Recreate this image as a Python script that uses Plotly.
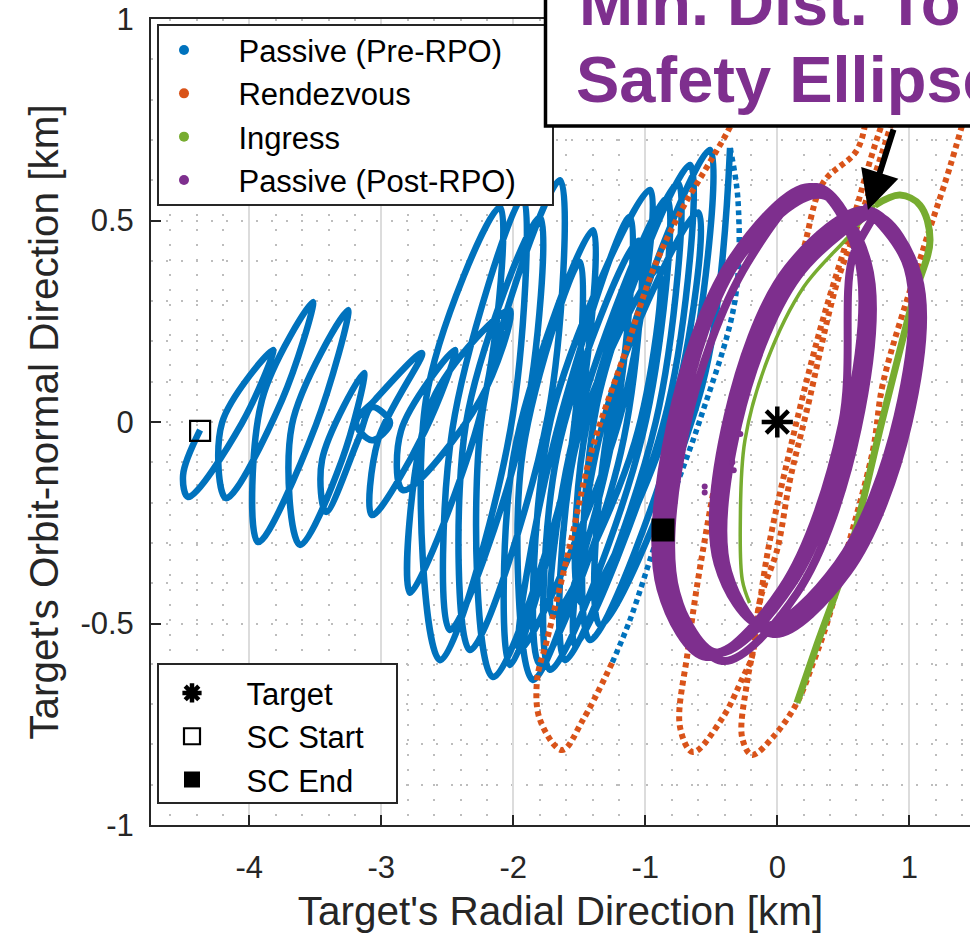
import plotly.graph_objects as go

# ---------------- data (km) : (radial, orbit-normal) ----------------
blue_path = [  # Passive (Pre-RPO)
    (-4.373, -0.020), (-4.502, -0.132),
    (-4.464, -0.186), (-4.055, -0.002), (-3.820, 0.179), (-4.207, -0.002),
    (-4.177, -0.189), (-3.752, 0.055), (-3.518, 0.298), (-3.904, 0.055),
    (-3.934, -0.298), (-3.495, -0.007), (-3.252, 0.278), (-3.677, -0.007),
    (-3.616, -0.305), (-3.298, -0.094), (-3.131, 0.122), (-3.449, -0.094),
    (-3.419, -0.223), (-3.177, -0.045), (-3.071, 0.037), (-2.934, -0.002),
    (-3.071, -0.045), (-3.192, -0.002), (-3.048, 0.055), (-2.692, 0.171), (-3.025, -0.045),
    (-3.071, -0.231), (-2.669, -0.022), (-2.442, 0.179), (-2.851, -0.022),
    (-2.836, -0.169), (-2.251, 0.055), (-2.025, 0.278), (-2.611, 0.055),
    (-2.783, -0.424), (-2.222, 0.055), (-2.101, 0.533), (-2.662, 0.055),
    (-2.555, -0.591), (-2.021, -0.017), (-1.927, 0.558), (-2.461, -0.017),
    (-2.480, -0.516), (-1.919, -0.004), (-1.798, 0.509), (-2.359, -0.004),
    (-2.328, -0.566), (-1.737, 0.017), (-1.646, 0.600), (-2.237, 0.017),
    (-2.154, -0.633), (-1.555, -0.079), (-1.396, 0.476), (-1.995, -0.079),
    (-2.025, -0.603), (-1.580, -0.103), (-1.495, 0.397), (-1.940, -0.103),
    (-1.851, -0.640), (-1.264, -0.066), (-1.116, 0.509), (-1.704, -0.066),
    (-1.949, -0.566), (-1.197, 0.005), (-0.964, 0.576), (-1.717, 0.005),
    (-1.800, -0.600), (-1.185, -0.075), (-1.050, 0.450), (-1.665, -0.075),
    (-1.722, -0.615), (-1.019, -0.030), (-0.836, 0.556), (-1.539, -0.030),
    (-1.700, -0.480), (-1.080, -0.050), (-0.900, 0.380), (-1.520, -0.050),
    (-1.608, -0.591), (-0.920, 0.001), (-0.752, 0.593), (-1.440, 0.001),
    (-1.480, -0.450), (-0.790, 0.035), (-0.600, 0.520), (-1.290, 0.035),
    (-1.533, -0.553), (-0.827, 0.043), (-0.661, 0.638), (-1.367, 0.043),
    (-1.419, -0.541), (-0.695, 0.067), (-0.510, 0.675), (-1.235, 0.067),
    (-1.343, -0.504), (-0.571, 0.088), (-0.358, 0.680),
]
blue_fast_path = [  # last, fast pass of the pre-RPO phase
    (-0.358, 0.680), (-0.298, 0.551), (-0.320, 0.303), (-0.586, 0.005),
    (-0.889, -0.268), (-1.116, -0.491), (-1.252, -0.598),
]
orange_path = [  # Rendezvous
    (-1.252, -0.598), (-1.472, -0.739), (-1.631, -0.814), (-1.798, -0.739),
    (-1.820, -0.640), (-1.745, -0.541), (-1.570, -0.305), (-1.404, -0.069),
    (-1.139, 0.186), (-0.942, 0.377), (-0.737, 0.519), (-0.487, 0.658),
    (-0.358, 0.732), (-0.131, 0.898), (0.096, 1.047), (0.399, 1.196),
    (0.929, 1.246), (0.853, 0.973), (0.702, 0.799), (0.604, 0.675),
    (0.346, 0.593), (0.172, 0.402), (-0.033, 0.261), (-0.230, 0.097),
    (-0.411, -0.069), (-0.563, -0.318), (-0.677, -0.566), (-0.737, -0.757),
    (-0.639, -0.819), (-0.411, -0.732), (-0.260, -0.633), (-0.192, -0.583),
    (-0.131, -0.442), (-0.002, -0.318), (0.096, -0.144), (0.225, 0.030),
    (0.452, 0.345), (0.604, 0.484), (0.801, 0.675), (0.967, 0.849),
    (1.157, 1.047), (1.384, 1.196), (1.043, 0.948), (0.778, 0.725),
    (0.551, 0.476), (0.323, 0.228), (0.096, -0.069), (-0.070, -0.318),
    (-0.184, -0.566), (-0.230, -0.648), (-0.267, -0.782), (-0.192, -0.826),
    (-0.033, -0.782), (0.149, -0.697), (0.271, -0.598), (0.377, -0.499),
    (0.528, -0.318), (0.725, -0.069), (0.801, 0.097), (1.104, 0.427),
    (1.308, 0.633), (1.497, 0.849),
]
green_path = [  # Ingress (outer branch)
    (0.149, -0.697), (0.286, -0.566), (0.551, -0.318), (0.801, 0.012),
    (1.028, 0.303), (1.157, 0.452), (1.081, 0.538), (0.929, 0.563), (0.740, 0.538),
]
green_inner_path = [  # Ingress (inner branch)
    (0.740, 0.538), (0.551, 0.464), (0.200, 0.335), (-0.075, 0.154),
    (-0.245, -0.045), (-0.280, -0.243), (-0.265, -0.392), (-0.210, -0.449),
]
purple_path = [  # Passive (Post-RPO)
    (0.647, 0.536), (0.988, 0.382), (0.912, 0.015), (0.457, -0.352),
    (-0.110, -0.506), (-0.452, -0.352), (-0.376, 0.015), (0.078, 0.382),
    (0.687, 0.526), (1.028, 0.372), (0.952, 0.005), (0.497, -0.362),
    (-0.070, -0.516), (-0.412, -0.362), (-0.336, 0.005), (0.118, 0.372),
    (0.727, 0.516), (1.068, 0.362), (0.992, -0.005), (0.537, -0.372),
    (-0.030, -0.526), (-0.372, -0.372), (-0.296, -0.005), (0.158, 0.362),
    (0.727, 0.516),
    (0.566, 0.404), (0.490, -0.005), (0.031, -0.414),
    (-0.537, -0.583), (-0.885, -0.414), (-0.810, -0.005), (-0.347, 0.404),
    (0.257, 0.583), (0.606, 0.414), (0.530, 0.005), (0.071, -0.404),
    (-0.497, -0.573), (-0.845, -0.404), (-0.770, 0.005), (-0.307, 0.414),
    (0.297, 0.583), (0.646, 0.414), (0.570, 0.005), (0.111, -0.404),
    (-0.457, -0.573), (-0.805, -0.404), (-0.730, 0.005), (-0.267, 0.414),
    (0.337, 0.563), (0.686, 0.394), (0.610, -0.015), (0.151, -0.424),
    (-0.417, -0.593), (-0.765, -0.424), (-0.690, -0.015), (-0.227, 0.394),
    (0.297, 0.583), (0.646, 0.414), (0.570, 0.005), (0.111, -0.404),
    (-0.457, -0.573), (-0.805, -0.404), (-0.866, -0.268),
]
purple_dots = [(-0.28, -0.03), (-0.34, -0.10), (-0.33, -0.12), (-0.55, -0.16), (-0.55, -0.175)]

target_xy = [(0.0, 0.0)]
sc_start_xy = [(-4.373, -0.022)]
sc_end_xy = [(-0.866, -0.268)]

phase_names = ["Passive (Pre-RPO)", "Rendezvous", "Ingress", "Passive (Post-RPO)"]
phase_colors = ["#0072BD", "#D95319", "#77AC30", "#7E2F8E"]

x_ticks = [-4, -3, -2, -1, 0, 1]
x_tick_text = ["-4", "-3", "-2", "-1", "0", "1"]
y_ticks = [-1, -0.5, 0, 0.5, 1]
y_tick_text = ["-1", "-0.5", "0", "0.5", "1"]

# ---------------- figure ----------------
FONT = "Liberation Sans, Arial, Helvetica, sans-serif"
AX = "#262626"
W, H = 970, 937
ML, MR, MT, MB = 151, 0, 19, 112
PW, PH = W - ML - MR, H - MT - MB


def px(xp):  # page pixel -> paper fraction (layout placement only)
    return (xp - ML) / PW


def py(yp):
    return (H - MB - yp) / PH


def xy(pts):
    return [p[0] for p in pts], [p[1] for p in pts]


fig = go.Figure()
spl = dict(shape="spline", smoothing=1.0)

bx, by = xy(blue_path)
fig.add_trace(go.Scatter(x=bx, y=by, mode="lines", line=dict(color=phase_colors[0], width=6.5, **spl),
                         showlegend=False, hoverinfo="skip"))
bx, by = xy(blue_fast_path)
fig.add_trace(go.Scatter(x=bx, y=by, mode="lines",
                         line=dict(color=phase_colors[0], width=5.5, dash="5px,4px", **spl),
                         showlegend=False, hoverinfo="skip"))
ox, oy = xy(orange_path)
fig.add_trace(go.Scatter(x=ox, y=oy, mode="lines",
                         line=dict(color=phase_colors[1], width=6, dash="5px,4px", **spl),
                         showlegend=False, hoverinfo="skip"))
gx, gy = xy(green_path)
fig.add_trace(go.Scatter(x=gx, y=gy, mode="lines", line=dict(color=phase_colors[2], width=7, **spl),
                         showlegend=False, hoverinfo="skip"))
gx, gy = xy(green_inner_path)
fig.add_trace(go.Scatter(x=gx, y=gy, mode="lines", line=dict(color=phase_colors[2], width=3.5, **spl),
                         showlegend=False, hoverinfo="skip"))
ux, uy = xy(purple_path)
fig.add_trace(go.Scatter(x=ux, y=uy, mode="lines", line=dict(color=phase_colors[3], width=8, **spl),
                         showlegend=False, hoverinfo="skip"))
ux, uy = xy(purple_dots)
fig.add_trace(go.Scatter(x=ux, y=uy, mode="markers", marker=dict(color=phase_colors[3], size=6),
                         showlegend=False, hoverinfo="skip"))

# legend 1 entries (dot markers)
for name, col in zip(phase_names, phase_colors):
    fig.add_trace(go.Scatter(x=[None], y=[None], mode="markers", marker=dict(color=col, size=10),
                             name="\u00a0\u00a0\u00a0\u00a0" + name, legend="legend"))

# markers + legend 2
tx, ty = xy(target_xy)
fig.add_trace(go.Scatter(x=tx, y=ty, mode="markers", name="\u00a0\u00a0\u00a0\u00a0Target", legend="legend2",
                         marker=dict(symbol="asterisk", size=26, color="black",
                                     line=dict(color="black", width=4.5))))
sx, sy = xy(sc_start_xy)
fig.add_trace(go.Scatter(x=sx, y=sy, mode="markers", name="\u00a0\u00a0\u00a0\u00a0SC Start", legend="legend2",
                         marker=dict(symbol="square-open", size=20, color="black",
                                     line=dict(color="black", width=2.2))))
ex, ey = xy(sc_end_xy)
fig.add_trace(go.Scatter(x=ex, y=ey, mode="markers", name="\u00a0\u00a0\u00a0\u00a0SC End", legend="legend2",
                         marker=dict(symbol="square", size=23, color="black")))

dot_grid = dict(showgrid=True, gridcolor="#bdbdbd", gridwidth=2, griddash="2px,13px")

fig.update_layout(
    template="none",
    width=W, height=H, autosize=False,
    margin=dict(l=ML, r=MR, t=MT, b=MB, pad=0),
    paper_bgcolor="white", plot_bgcolor="white",
    font=dict(family=FONT, color=AX),
    xaxis=dict(range=[-4.745, 1.46], tickmode="array", tickvals=x_ticks, ticktext=x_tick_text,
               ticks="inside", ticklen=10, tickwidth=2, tickcolor=AX,
               showline=True, linecolor=AX, linewidth=2, mirror=True,
               showgrid=True, gridcolor="#dcdcdc", gridwidth=2, zeroline=False,
               tickfont=dict(size=31, family=FONT, color=AX), ticklabelstandoff=14,
               automargin=False,
               title=dict(text="Target's Radial Direction [km]", standoff=12,
                          font=dict(size=40.5, family=FONT, color=AX)),
               minor=dict(dtick=0.2, tick0=0, ticks="", **dot_grid)),
    yaxis=dict(range=[-1, 1], tickmode="array", tickvals=y_ticks, ticktext=y_tick_text,
               ticks="inside", ticklen=10, tickwidth=2, tickcolor=AX,
               showline=True, linecolor=AX, linewidth=2, mirror=False,
               zeroline=False, automargin=False,
               tickfont=dict(size=31, family=FONT, color=AX), ticklabelstandoff=9,
               title=dict(text="Target's Orbit-normal Direction [km]", standoff=9,
                          font=dict(size=40.5, family=FONT, color=AX)),
               minor=dict(dtick=0.1, tick0=0, ticks="", **dot_grid),
               **dot_grid),
    legend=dict(x=px(164), y=py(23.4), xanchor="left", yanchor="top",
                bgcolor="rgba(0,0,0,0)", borderwidth=0, traceorder="normal",
                font=dict(size=31, family=FONT, color="black")),
    legend2=dict(x=px(172), y=py(666.3), xanchor="left", yanchor="top",
                 bgcolor="rgba(0,0,0,0)", borderwidth=0, traceorder="normal",
                 font=dict(size=31, family=FONT, color="black")),
    shapes=[
        dict(type="rect", xref="paper", yref="paper", x0=px(158), x1=px(553), y0=py(205), y1=py(25),
             line=dict(color=AX, width=2), fillcolor="white", layer="above"),
        dict(type="rect", xref="paper", yref="paper", x0=px(158), x1=px(397), y0=py(803), y1=py(664),
             line=dict(color=AX, width=2), fillcolor="white", layer="above"),
        dict(type="rect", xref="paper", yref="paper", x0=px(545.5), x1=px(1100), y0=py(126), y1=py(-100),
             line=dict(color="black", width=3.5), fillcolor="white", layer="above"),
    ],
    annotations=[
        dict(text="<b>Min. Dist. To</b>", xref="paper", yref="paper", x=px(577), y=py(2.5),
             xanchor="left", yanchor="middle", showarrow=False,
             font=dict(size=65, family=FONT, color=phase_colors[3])),
        dict(text="<b>Safety Ellipse</b>", xref="paper", yref="paper", x=px(574), y=py(79.5),
             xanchor="left", yanchor="middle", showarrow=False,
             font=dict(size=65, family=FONT, color=phase_colors[3])),
        dict(text="", x=0.687, y=0.526, xref="x", yref="y", ax=26, ay=-82,
             showarrow=True, arrowhead=2, arrowsize=1.3, arrowwidth=6, arrowcolor="black"),
    ],
)

fig.write_html("out.html")
